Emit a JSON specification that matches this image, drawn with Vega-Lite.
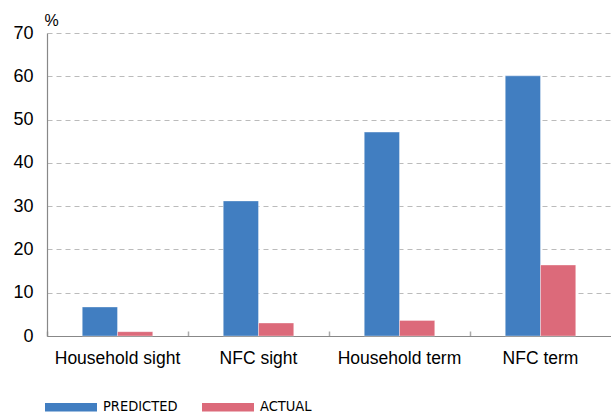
{
  "$schema": "https://vega.github.io/schema/vega-lite/v6.json",
  "width": 564,
  "height": 303,
  "autosize": "none",
  "padding": {"left": 47, "top": 33, "right": 0, "bottom": 78},
  "background": "white",
  "config": {
    "view": {"stroke": null},
    "font": "Liberation Sans"
  },
  "data": {
    "values": [
      {"category": "Household sight", "series": "PREDICTED", "value": 6.7},
      {"category": "Household sight", "series": "ACTUAL", "value": 1.0},
      {"category": "NFC sight", "series": "PREDICTED", "value": 31.2},
      {"category": "NFC sight", "series": "ACTUAL", "value": 3.0},
      {"category": "Household term", "series": "PREDICTED", "value": 47.1},
      {"category": "Household term", "series": "ACTUAL", "value": 3.6},
      {"category": "NFC term", "series": "PREDICTED", "value": 60.1},
      {"category": "NFC term", "series": "ACTUAL", "value": 16.4}
    ]
  },
  "mark": {"type": "bar", "stroke": "#ffffff", "strokeWidth": 0.6, "strokeOpacity": 0.6},
  "encoding": {
    "x": {
      "field": "category",
      "type": "nominal",
      "sort": ["Household sight", "NFC sight", "Household term", "NFC term"],
      "scale": {"paddingInner": 0, "paddingOuter": 0},
      "axis": {
        "title": null,
        "labelAngle": 0,
        "labelFont": "Liberation Sans",
        "labelFontSize": 17.5,
        "labelColor": "#000000",
        "labelPadding": 18,
        "domainColor": "#888888",
        "domainWidth": 1.2,
        "tickColor": "#aaaaaa",
        "tickSize": -5,
        "tickWidth": 1.5,
        "bandPosition": 0,
        "grid": false
      }
    },
    "xOffset": {
      "field": "series",
      "type": "nominal",
      "sort": ["PREDICTED", "ACTUAL"],
      "scale": {"paddingOuter": 1.07, "paddingInner": 0}
    },
    "y": {
      "field": "value",
      "type": "quantitative",
      "scale": {"domain": [0, 70], "nice": false},
      "axis": {
        "values": [0, 10, 20, 30, 40, 50, 60, 70],
        "title": "%",
        "titleAngle": 0,
        "titleX": 4,
        "titleY": -8,
        "titleAlign": "center",
        "titleBaseline": "alphabetic",
        "titleFont": "Liberation Sans",
        "titleFontSize": 16,
        "titleFontWeight": "normal",
        "titleColor": "#000000",
        "labelFont": "Liberation Sans",
        "labelFontSize": 18,
        "labelColor": "#000000",
        "labelPadding": 14,
        "ticks": false,
        "domainColor": "#888888",
        "domainWidth": 1.2,
        "grid": true,
        "gridColor": "#bbbbbb",
        "gridDash": [5, 4],
        "gridWidth": 1.2
      }
    },
    "color": {
      "field": "series",
      "type": "nominal",
      "sort": ["PREDICTED", "ACTUAL"],
      "scale": {"domain": ["PREDICTED", "ACTUAL"], "range": ["#417ec1", "#dc6a7a"]},
      "legend": {
        "title": null,
        "orient": "none",
        "legendX": -2,
        "legendY": 348,
        "direction": "horizontal",
        "symbolType": "M-1,-0.165L1,-0.165L1,0.165L-1,0.165Z",
        "symbolSize": 2704,
        "symbolStrokeWidth": 0,
        "symbolOpacity": 1,
        "labelFont": "DejaVu Sans Condensed",
        "labelFontSize": 14.5,
        "labelColor": "#000000",
        "labelOffset": 6,
        "columnPadding": 24
      }
    }
  }
}
